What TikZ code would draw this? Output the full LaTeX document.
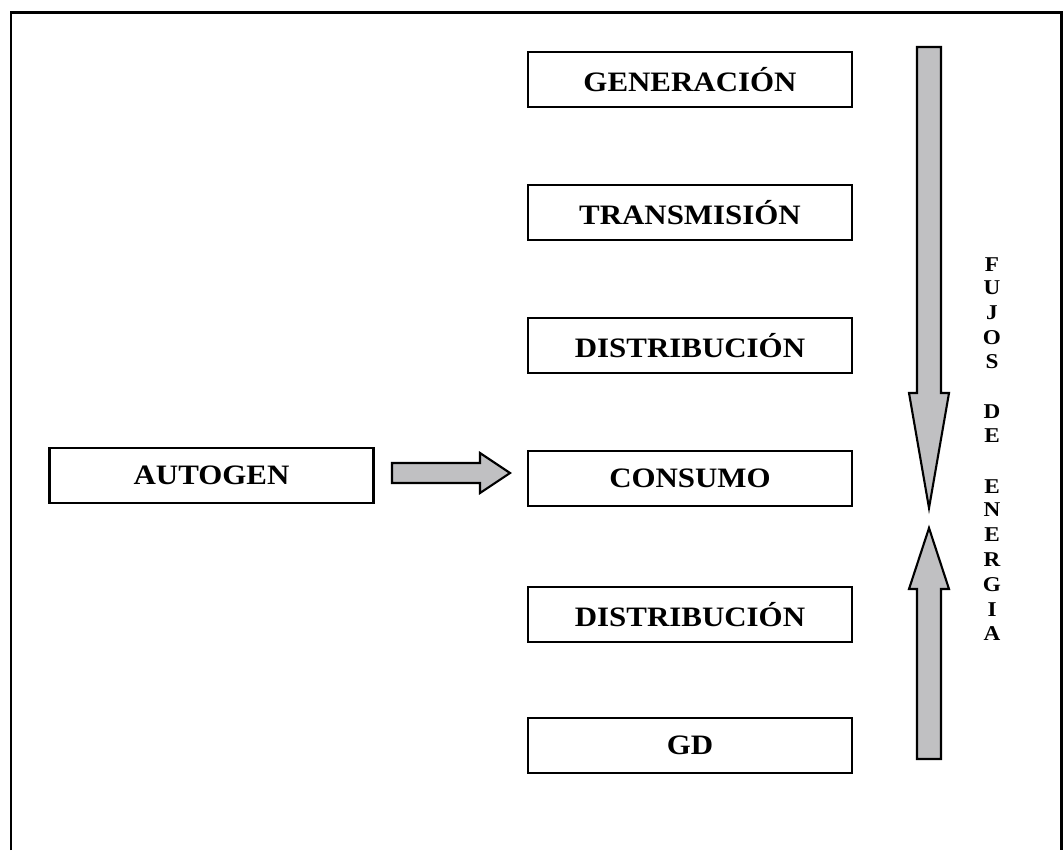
\documentclass[tikz,border=0pt]{standalone}
\usepackage{fontspec}
\setmainfont{Liberation Serif}[FakeStretch=1.1]
\definecolor{arrowgray}{RGB}{192,192,194}
\tikzset{
  block/.style={draw, line width=1.2pt, minimum width=6.48cm, minimum height=1.1cm,
    inner sep=0pt, font=\fontsize{16}{18}\selectfont\bfseries},
  blockarrow/.style={draw, line width=1.2pt, fill=arrowgray},
  letra/.style={inner sep=0pt, font=\fontsize{12}{14}\selectfont\bfseries}
}
\begin{document}
\begin{tikzpicture}[x=0.02cm,y=-0.02cm]
\useasboundingbox (0,0) rectangle (1064,850);
\draw[line width=1.7pt] (11,850) -- (11,12) -- (1061,12) -- (1061,850);

\node[block] (gen) at (690,79.5) {GENERACIÓN};
\node[block] (trans) at (690,212.5) {TRANSMISIÓN};
\node[block] (dist1) at (690,345.5) {DISTRIBUCIÓN};
\node[block] (consumo) at (690,478.5) {CONSUMO};
\node[block] (dist2) at (690,614.5) {DISTRIBUCIÓN};
\node[block] (gd) at (690,745.5) {GD};
\node[block] (autogen) at (211.5,475.5) {AUTOGEN};

% flechas de bloque
\draw[blockarrow] (392,463) -- (480,463) -- (480,453) -- (510,473) -- (480,493) -- (480,483) -- (392,483) -- cycle;
\draw[blockarrow] (917,47) -- (941,47) -- (941,393) -- (949,393) -- (929,508) -- (909,393) -- (917,393) -- cycle;
\draw[blockarrow] (917,759) -- (941,759) -- (941,589) -- (949,589) -- (929,528) -- (909,589) -- (917,589) -- cycle;

% texto vertical
\foreach \l/\y [count=\i] in {F/265,U/288,J/313,O/338,S/362,D/412,E/436,E/487,N/510,E/535,R/560,G/585,I/610,A/634}
  \node[letra] (l\i) at (992,\y) {\l};
\end{tikzpicture}
\end{document}
